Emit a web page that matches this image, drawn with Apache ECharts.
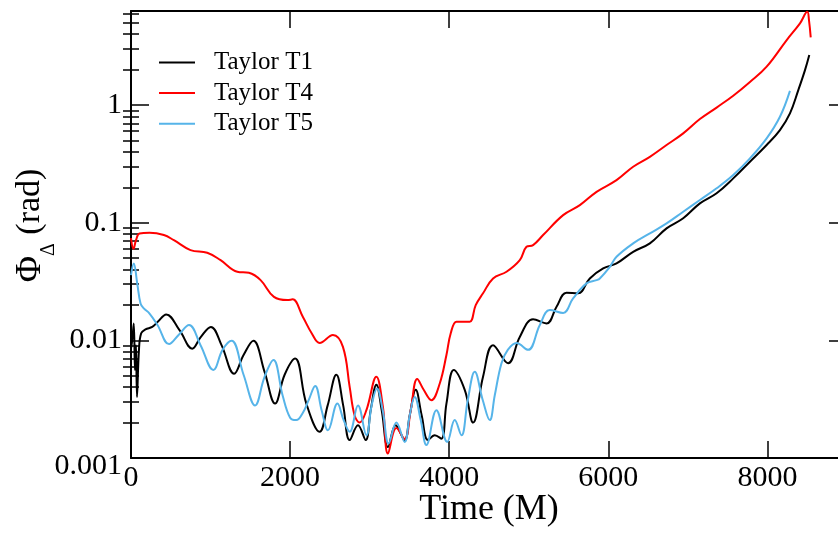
<!DOCTYPE html>
<html>
<head>
<meta charset="utf-8">
<script src="https://cdn.jsdelivr.net/npm/echarts@6/dist/echarts.min.js"></script>
<style>
  html, body { margin: 0; padding: 0; background: #fff; }
  #chart { width: 838px; height: 534px; }
</style>
</head>
<body>
<div id="chart"></div>
<script>
// Phase difference (rad) versus time (M) for three Taylor approximants
const timeT1 = [0, 15, 35, 50, 63, 75, 100, 128, 182, 267, 333, 443, 610, 770, 874, 1004, 1138, 1296, 1415, 1538,
  1679, 1811, 1931, 2063, 2204, 2371, 2472, 2581, 2667, 2749, 2853, 2950, 3013, 3084, 3151, 3230, 3327, 3440, 3503, 3579,
  3654, 3733, 3818, 3902, 3965, 4057, 4195, 4300, 4425, 4551, 4740, 4887, 5054, 5223, 5349, 5474, 5620, 5767, 5935, 6103,
  6312, 6522, 6732, 6941, 7151, 7361, 7570, 7780, 7990, 8157, 8283, 8388, 8472, 8526];
const phaseT1 = [0.0085, 0.0100, 0.0139, 0.0056, 0.0091, 0.0033, 0.0083, 0.0115, 0.0124, 0.0130,
  0.0143, 0.0166, 0.0122, 0.0085, 0.0106, 0.0130, 0.0091, 0.0052, 0.0075, 0.0099,
  0.0054, 0.0029, 0.0051, 0.0070, 0.0029, 0.00167, 0.0028, 0.0051, 0.0028, 0.00142,
  0.0019, 0.00142, 0.00255, 0.0042, 0.00255, 0.00124, 0.0019, 0.00142, 0.0023, 0.0038,
  0.0023, 0.00142, 0.00156, 0.00146, 0.0029, 0.0056, 0.0038, 0.0020, 0.0049, 0.0091,
  0.0064, 0.0107, 0.0151, 0.0139, 0.0193, 0.0254, 0.0251, 0.0336, 0.0409, 0.0451,
  0.0566, 0.0667, 0.0895, 0.109, 0.146, 0.178, 0.238, 0.330, 0.457, 0.613,
  0.850, 1.34, 1.98, 2.66];

const timeT4 = [0, 31, 63, 107, 233, 413, 539, 748, 958, 1126, 1336, 1482, 1629, 1797, 1965, 2031, 2161, 2271, 2371, 2538,
  2664, 2749, 2811, 2874, 2959, 3084, 3167, 3230, 3336, 3440, 3516, 3598, 3679, 3776, 3881, 3965, 4019, 4091, 4170, 4258,
  4333, 4425, 4551, 4720, 4887, 4971, 5054, 5180, 5432, 5642, 5852, 6103, 6312, 6522, 6732, 6941, 7151, 7361, 7570, 7780,
  7990, 8242, 8409, 8501, 8522, 8544];
const phaseT4 = [0.074, 0.060, 0.071, 0.081, 0.082, 0.0785, 0.071, 0.0585, 0.0555, 0.048,
  0.0383, 0.0375, 0.0325, 0.0234, 0.0220, 0.0223, 0.0158, 0.0115, 0.0095, 0.0111,
  0.0088, 0.0040, 0.0023, 0.0020, 0.00255, 0.0049, 0.0027, 0.00109, 0.0018, 0.00145,
  0.00255, 0.0047, 0.0038, 0.0031, 0.0043, 0.0075, 0.0115, 0.0144, 0.0144, 0.0144,
  0.0199, 0.0251, 0.0336, 0.0383, 0.0481, 0.0624, 0.0645, 0.0785, 0.116, 0.141,
  0.183, 0.230, 0.299, 0.363, 0.457, 0.574, 0.760, 0.952, 1.20, 1.57,
  2.12, 3.57, 4.95, 6.2, 5.28, 3.76];

const timeT5 = [0, 35, 78, 120, 161, 233, 333, 478, 598, 730, 874, 1035, 1151, 1264, 1415, 1560, 1679, 1790, 1906, 2000,
  2078, 2157, 2233, 2315, 2396, 2476, 2595, 2673, 2749, 2853, 2959, 3025, 3092, 3164, 3239, 3336, 3440, 3503, 3566, 3642,
  3713, 3839, 3975, 4069, 4154, 4233, 4321, 4422, 4510, 4572, 4657, 4736, 4845, 4991, 5139, 5264, 5432, 5557, 5726, 5852,
  5893, 6019, 6103, 6312, 6522, 6732, 6941, 7151, 7361, 7570, 7780, 7990, 8157, 8283];
const phaseT5 = [0.0358, 0.0451, 0.0305, 0.0206, 0.0187, 0.0169, 0.0135, 0.0093, 0.0111, 0.0135,
  0.0091, 0.0056, 0.0083, 0.0099, 0.0051, 0.0028, 0.0049, 0.0068, 0.0034, 0.0022,
  0.0021, 0.0024, 0.0031, 0.0041, 0.00255, 0.00172, 0.0029, 0.0021, 0.00167, 0.0028,
  0.00156, 0.0028, 0.0039, 0.00255, 0.00133, 0.0020, 0.00137, 0.0023, 0.0033, 0.0021,
  0.00129, 0.00255, 0.00137, 0.0021, 0.00156, 0.0031, 0.0054, 0.0031, 0.0021, 0.0034,
  0.0064, 0.0083, 0.0095, 0.0083, 0.0135, 0.0181, 0.0171, 0.0227, 0.0305, 0.0325,
  0.0336, 0.0422, 0.0513, 0.0667, 0.0811, 0.0986, 0.124, 0.156, 0.196, 0.254,
  0.352, 0.521, 0.795, 1.32];

const seriesNames = ['Taylor T1', 'Taylor T4', 'Taylor T5'];
const xTicks = [0, 2000, 4000, 6000, 8000];
const yTicks = [0.001, 0.01, 0.1, 1];
const yMinorTicks = [0.002, 0.003, 0.004, 0.005, 0.006, 0.007, 0.008, 0.009,
  0.02, 0.03, 0.04, 0.05, 0.06, 0.07, 0.08, 0.09,
  0.2, 0.3, 0.4, 0.5, 0.6, 0.7, 0.8, 0.9,
  2, 3, 4, 5, 6];

const serif = "'Liberation Serif', 'Times New Roman', serif";
const ink = '#000';
const colors = ['#000000', '#ff0000', '#56b4e9'];

function pairs(t, v) {
  return t.map((x, i) => [x, v[i]]);
}

const frameLine = { show: true, onZero: false, lineStyle: { color: ink, width: 2 } };
const tickStyle = { color: ink, width: 1.5 };

function xAxisDef(position, withLabels) {
  const ax = {
    type: 'value', position: position, min: 0, max: 9000,
    axisLine: frameLine,
    axisTick: { show: true, inside: true, length: 17, customValues: xTicks, lineStyle: tickStyle },
    axisLabel: { show: false },
    splitLine: { show: false }
  };
  if (withLabels) {
    ax.axisLabel = {
      show: true, customValues: xTicks,
      fontFamily: serif, fontSize: 30, color: ink, margin: 5,
      formatter: function (v) { return String(Math.round(v)); }
    };
    ax.name = 'Time (M)';
    ax.nameLocation = 'middle';
    ax.nameGap = 34;
    ax.nameMoveOverlap = false;
    ax.nameTextStyle = { fontFamily: serif, fontSize: 36, color: ink };
  }
  return ax;
}

function yAxisDef(position, major, withLabels) {
  const ax = {
    type: 'log', logBase: 10, position: position, min: 0.001, max: 6.3,
    axisLine: major ? frameLine : { show: false },
    axisTick: {
      show: true, inside: true, length: major ? 18 : 8,
      customValues: major ? yTicks : yMinorTicks, lineStyle: tickStyle
    },
    axisLabel: { show: false },
    splitLine: { show: false },
    minorTick: { show: false }
  };
  if (withLabels) {
    ax.axisLabel = {
      show: true, customValues: yTicks, margin: 9,
      fontFamily: serif, fontSize: 30, color: ink,
      formatter: function (v) {
        if (v >= 0.5) return '1';
        if (v >= 0.05) return '0.1';
        if (v >= 0.005) return '0.01';
        return '{low|0.001}';
      },
      rich: {
        low: { fontFamily: serif, fontSize: 30, color: ink, padding: [16, 0, 0, 0] }
      }
    };
    ax.name = '{phi|Φ}{sub|Δ}{rad| (rad)}';
    ax.nameLocation = 'middle';
    ax.nameGap = 72;
    ax.nameMoveOverlap = false;
    ax.nameTextStyle = {
      fontFamily: serif, fontSize: 34, color: ink,
      padding: [0, 0, 0, 18],
      rich: {
        phi: { fontFamily: serif, fontSize: 36, color: ink, lineHeight: 34, verticalAlign: 'top' },
        sub: { fontFamily: serif, fontSize: 20, color: ink, lineHeight: 46, verticalAlign: 'bottom' },
        rad: { fontFamily: serif, fontSize: 34, color: ink, lineHeight: 34, verticalAlign: 'top' }
      }
    };
  }
  return ax;
}

function lineSeries(i, t, v) {
  return {
    type: 'line', name: seriesNames[i], data: pairs(t, v),
    xAxisIndex: 0, yAxisIndex: 0,
    symbol: 'none', showSymbol: false, smooth: 0.4,
    lineStyle: { color: colors[i], width: 2 },
    itemStyle: { color: colors[i] },
    emphasis: { disabled: true }
  };
}

const chart = echarts.init(document.getElementById('chart'), null, { renderer: 'canvas' });
chart.setOption({
  animation: false,
  backgroundColor: '#fff',
  grid: {
    left: 131, top: 11, right: -9, bottom: 76,
    containLabel: false, outerBoundsMode: 'none'
  },
  legend: {
    orient: 'vertical', left: 154, top: 45,
    icon: 'rect', itemWidth: 36, itemHeight: 2, itemGap: 5.6,
    data: seriesNames,
    textStyle: { fontFamily: serif, fontSize: 25, color: ink, padding: [0, 0, 0, 14] }
  },
  xAxis: [xAxisDef('bottom', true), xAxisDef('top', false)],
  yAxis: [
    yAxisDef('left', true, true),
    yAxisDef('left', false, false),
    yAxisDef('right', true, false),
    yAxisDef('right', false, false)
  ],
  series: [
    lineSeries(0, timeT1, phaseT1),
    lineSeries(1, timeT4, phaseT4),
    lineSeries(2, timeT5, phaseT5)
  ]
});
</script>
</body>
</html>
